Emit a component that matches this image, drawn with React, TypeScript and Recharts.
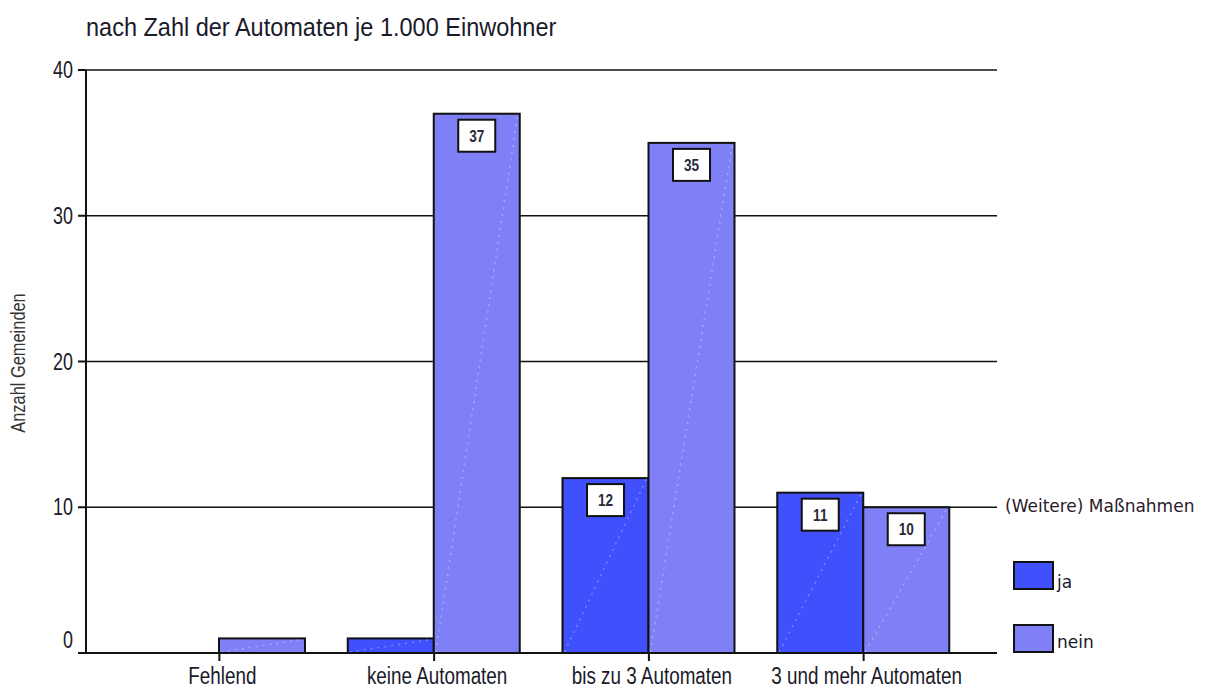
import React from "react";
import {
    BarChart,
    Bar,
    XAxis,
    YAxis,
    CartesianGrid,
    LabelList,
} from "recharts";

// Anzahl Gemeinden nach Zahl der Automaten je 1.000 Einwohner
const categories = ["Fehlend", "keine Automaten", "bis zu 3 Automaten", "3 und mehr Automaten"];
const jaValues = [0, 1, 12, 11];
const neinValues = [1, 37, 35, 10];
const yTicks = [0, 10, 20, 30, 40];

const data = categories.map((name, i) => ({ name, ja: jaValues[i], nein: neinValues[i] }));

const SANS = "'Liberation Sans', Arial, sans-serif";
const LEGEND_FONT = "'DejaVu Sans', Verdana, sans-serif";
const JA = "#4050FC";
const NEIN = "#8080F6";
const INK = "#1a1a2a";

// bar with black frame and the faint dotted diagonal of the original
const BarShape = (props: any) => {
    const { x, y, width, height, fill } = props;
    if (!height || height <= 0) return null;
    return (
        <g>
            <rect x={x} y={y} width={width} height={height} fill={fill} stroke="#111" strokeWidth={2} />
            <line
                x1={x + 2}
                y1={y + height - 1}
                x2={x + width - 2}
                y2={y + 1}
                stroke="rgba(255,255,255,0.3)"
                strokeWidth={1.5}
                strokeDasharray="2 5"
            />
        </g>
    );
};

// value in a small white box at the top of the bar
const BoxLabel = (props: any) => {
    const { x, y, width, height, value } = props;
    if (value == null || height < 45) return null;
    const cx = x + width / 2;
    const bw = 37;
    const bh = 32;
    const top = y + 6;
    return (
        <g>
            <rect x={cx - bw / 2} y={top} width={bw} height={bh} fill="#fff" stroke="#111" strokeWidth={2} />
            <g transform={`translate(${cx},${top + bh / 2 + 6}) scale(0.8,1)`}>
                <text x={0} y={0} textAnchor="middle" fontFamily={SANS} fontWeight="bold" fontSize={17} fill="#2a2a3a">
                    {value}
                </text>
            </g>
        </g>
    );
};

// condensed category label under the axis
const XTick = (props: any) => {
    const { x, y, payload } = props;
    return (
        <g transform={`translate(${x + 3},${y + 21}) scale(0.82,1)`}>
            <text x={0} y={0} textAnchor="middle" fontFamily={SANS} fontSize={23} fill={INK}>
                {payload.value}
            </text>
        </g>
    );
};

const YTick = (props: any) => {
    const { x, y, payload } = props;
    const shift = payload.value === 0 ? -5 : 8;
    return (
        <g transform={`translate(${x - 3},${y + shift}) scale(0.78,1)`}>
            <text x={0} y={0} textAnchor="end" fontFamily={SANS} fontSize={23} fill={INK}>
                {payload.value}
            </text>
        </g>
    );
};

export default function App() {
    return (
        <div style={{ position: "absolute", left: 0, top: 0, width: 1214, height: 689, background: "#fff" }}>
            <div style={{
                position: "absolute",
                left: 86,
                top: 15,
                fontFamily: SANS,
                fontSize: 25,
                lineHeight: "25px",
                color: INK,
                whiteSpace: "nowrap",
                transform: "scaleX(0.94)",
                transformOrigin: "left top",
            }}>
                nach Zahl der Automaten je 1.000 Einwohner
            </div>
            <div style={{
                position: "absolute",
                left: 18,
                top: 363,
                transform: "translate(-50%, -50%) rotate(-90deg) scaleX(0.82)",
                fontFamily: SANS,
                fontSize: 20,
                color: "#333",
                whiteSpace: "nowrap",
            }}>
                Anzahl Gemeinden
            </div>
            <BarChart
                width={1214}
                height={689}
                data={data}
                margin={{ top: 70, right: 217, left: 46, bottom: 6 }}
                barSize={86}
                barGap={0}
            >
                <CartesianGrid vertical={false} stroke="#111" strokeWidth={1.5} />
                <XAxis
                    dataKey="name"
                    height={30}
                    padding={{ left: 26, right: 26 }}
                    axisLine={{ stroke: "#111", strokeWidth: 2 }}
                    tickLine={{ stroke: "#111", strokeWidth: 2 }}
                    tickSize={8}
                    interval={0}
                    tick={<XTick />}
                />
                <YAxis
                    width={40}
                    domain={[0, 40]}
                    ticks={yTicks}
                    axisLine={{ stroke: "#111", strokeWidth: 2 }}
                    tickLine={{ stroke: "#111", strokeWidth: 2 }}
                    tickSize={8}
                    tick={<YTick />}
                />
                <YAxis
                    yAxisId="frame"
                    orientation="right"
                    width={0}
                    domain={[0, 40]}
                    tick={false}
                    tickLine={false}
                    axisLine={{ stroke: "#111", strokeWidth: 2 }}
                />
                <Bar dataKey="ja" fill={JA} shape={BarShape} isAnimationActive={false}>
                    <LabelList dataKey="ja" content={BoxLabel} />
                </Bar>
                <Bar dataKey="nein" fill={NEIN} shape={BarShape} isAnimationActive={false}>
                    <LabelList dataKey="nein" content={BoxLabel} />
                </Bar>
            </BarChart>
            <div style={{
                position: "absolute",
                left: 1005,
                top: 498,
                fontFamily: LEGEND_FONT,
                fontSize: 17,
                lineHeight: "17px",
                color: "#2a1a2a",
                whiteSpace: "nowrap",
            }}>
                (Weitere) Maßnahmen
            </div>
            {[
                { label: "ja", color: JA, top: 561, textTop: 574 },
                { label: "nein", color: NEIN, top: 624, textTop: 634 },
            ].map((item) => (
                <React.Fragment key={item.label}>
                    <div style={{
                        position: "absolute",
                        left: 1013,
                        top: item.top,
                        width: 41,
                        height: 29,
                        background: item.color,
                        border: "2px solid #111",
                        boxSizing: "border-box",
                    }} />
                    <div style={{
                        position: "absolute",
                        left: 1057,
                        top: item.textTop,
                        fontFamily: LEGEND_FONT,
                        fontSize: 17,
                        lineHeight: "17px",
                        color: INK,
                        whiteSpace: "nowrap",
                    }}>
                        {item.label}
                    </div>
                </React.Fragment>
            ))}
        </div>
    );
}
